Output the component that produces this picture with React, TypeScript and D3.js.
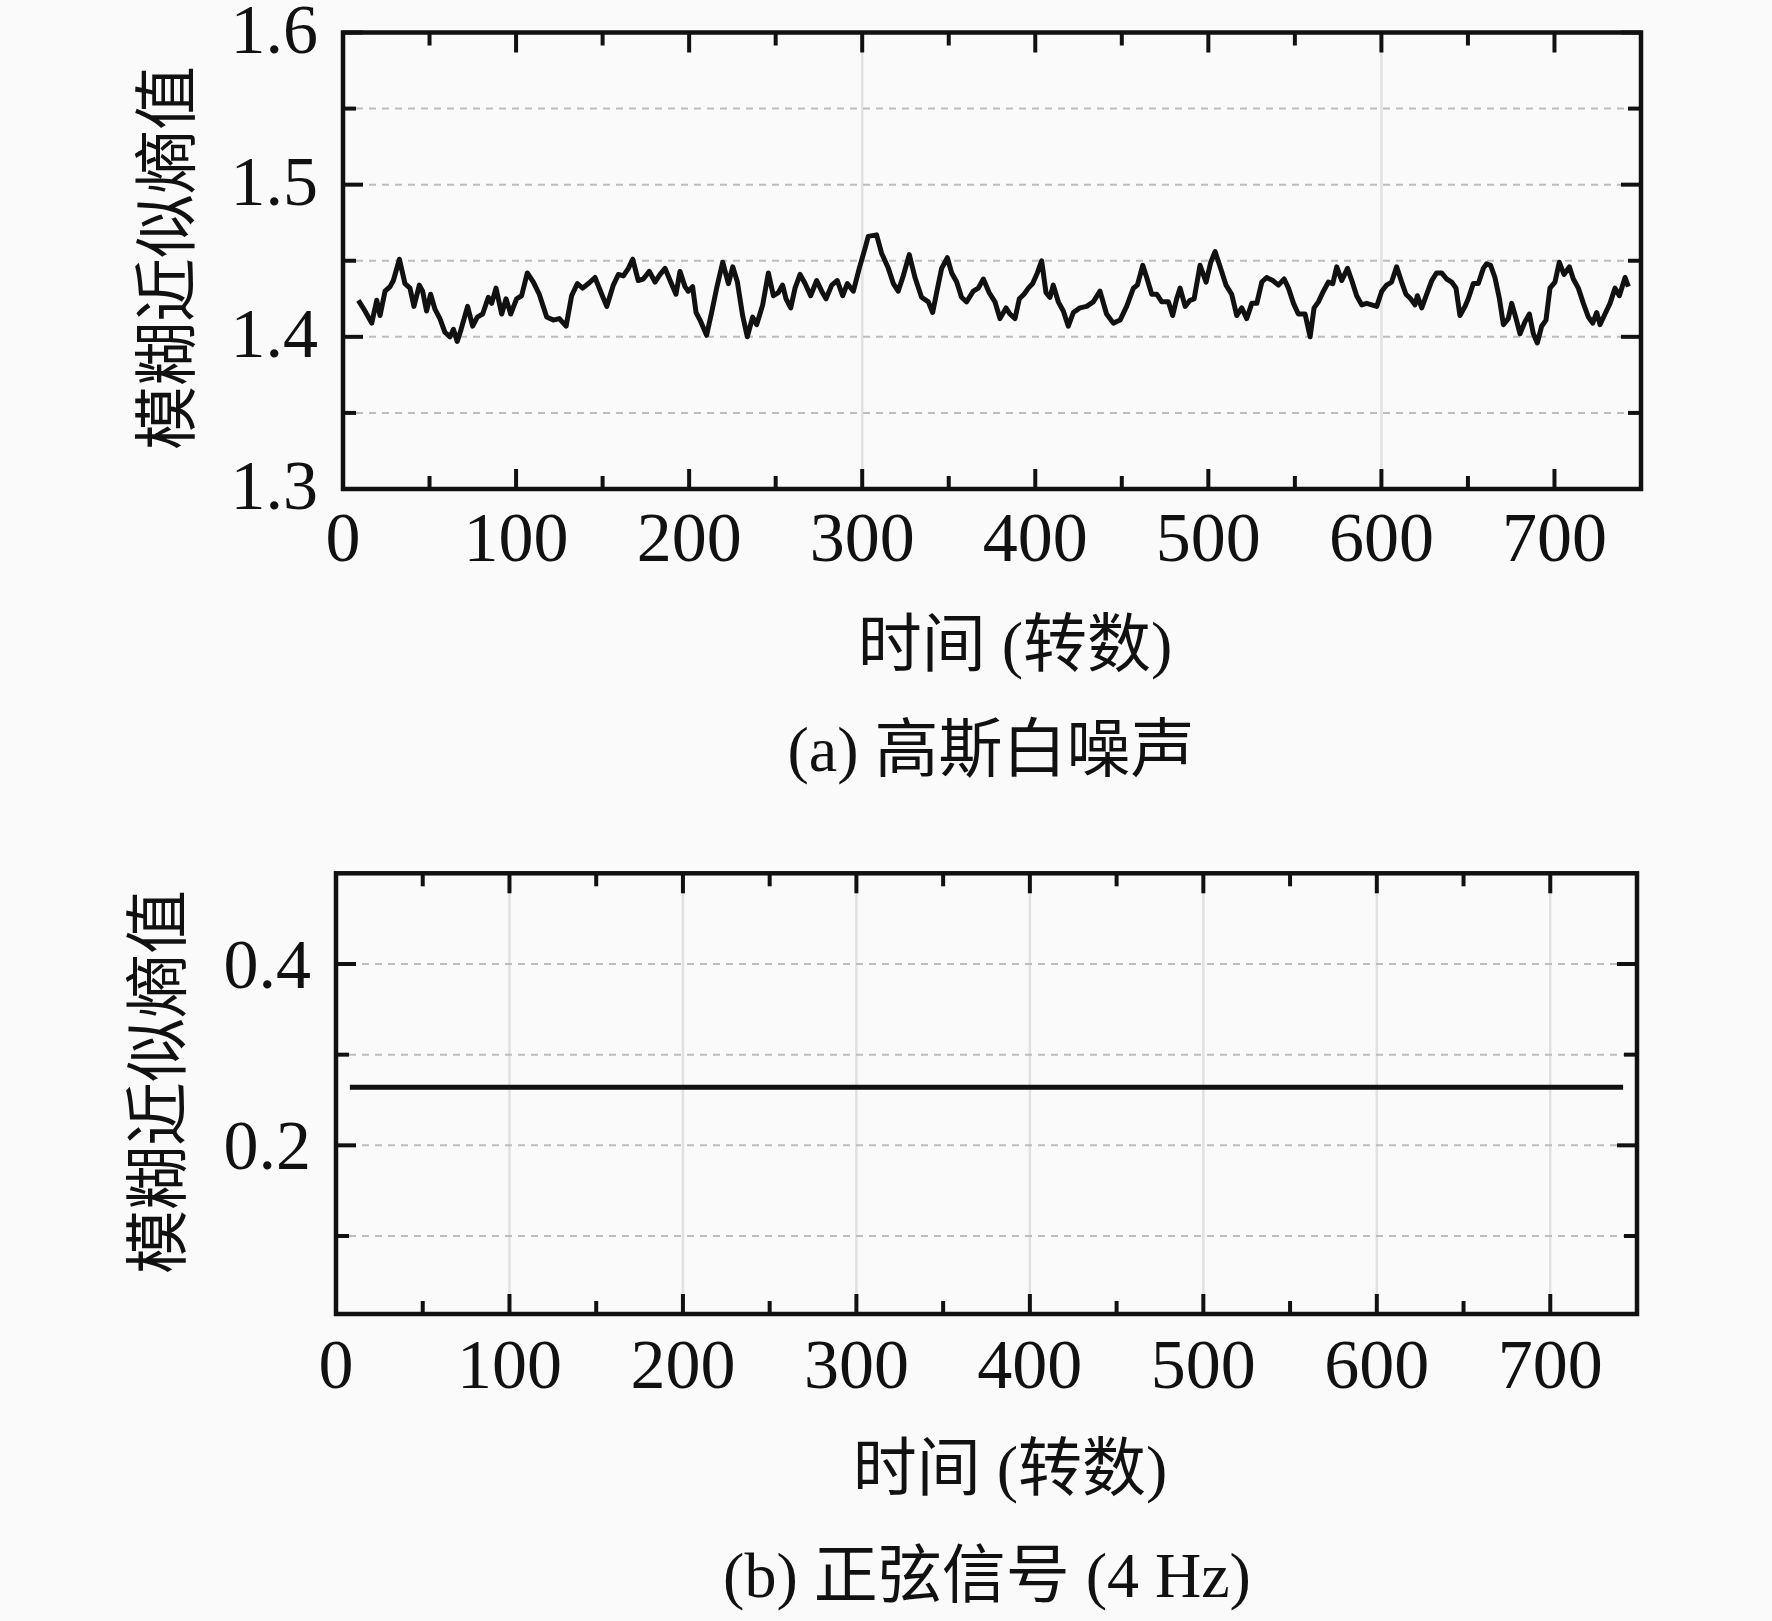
import { scaleLinear, line } from "d3"

// top panel: fuzzy ApEn of gaussian white noise
const noiseTurns = [
  8.9, 12.7, 16.6, 19.5, 21.4, 24.3, 27.2, 29.1, 32.6, 35.8, 38.7, 41.0, 44.1, 46.0, 48.3, 50.6, 53.2, 56.0, 58.9, 61.8,
  63.8, 66.0, 68.0, 72.0, 74.9, 77.6, 80.7, 84.0, 85.9, 88.4, 91.7, 94.2, 96.9, 100.3, 103.2, 106.5, 110.0, 113.4, 117.7, 121.5,
  125.0, 128.9, 132.1, 135.4, 138.5, 141.8, 145.6, 149.5, 152.4, 156.2, 159.1, 162.0, 164.9, 167.4, 170.6, 173.5, 177.0, 180.3, 183.2, 186.1,
  189.0, 192.4, 194.7, 197.6, 199.5, 202.0, 204.0, 206.3, 210.1, 213.0, 215.9, 219.4, 222.7, 225.2, 227.9, 230.9, 233.6, 236.7, 239.0, 242.5,
  245.8, 248.7, 251.5, 254.0, 256.0, 258.7, 261.2, 264.1, 267.0, 270.2, 273.7, 276.6, 279.1, 282.4, 285.6, 288.7, 291.4, 294.9, 298.3, 301.6,
  303.5, 308.3, 311.2, 315.1, 318.0, 320.8, 323.7, 327.2, 330.5, 334.3, 338.2, 340.7, 343.0, 345.9, 349.2, 351.7, 354.6, 357.4, 360.3, 364.2,
  367.1, 370.0, 373.4, 376.7, 379.6, 383.1, 385.4, 388.3, 390.8, 393.5, 396.0, 398.5, 401.2, 403.7, 406.2, 408.5, 410.4, 413.3, 416.2, 419.1,
  422.0, 425.8, 429.7, 433.5, 437.4, 441.2, 445.1, 449.0, 452.8, 456.7, 459.0, 462.1, 464.4, 467.3, 470.2, 473.1, 476.9, 479.4, 481.7, 483.7,
  486.6, 489.4, 491.8, 495.2, 498.7, 501.4, 503.9, 506.8, 510.2, 513.5, 516.4, 519.3, 522.2, 525.1, 528.0, 530.9, 533.7, 537.2, 540.5, 543.8,
  546.3, 549.2, 552.0, 555.9, 558.8, 561.1, 563.6, 566.5, 569.4, 571.9, 574.2, 577.1, 580.4, 582.9, 585.7, 588.6, 591.5, 594.4, 597.3, 600.2,
  603.0, 605.9, 608.8, 611.7, 614.2, 616.9, 619.4, 620.8, 623.3, 626.2, 629.1, 631.9, 634.8, 637.7, 640.6, 643.1, 645.4, 648.3, 650.2, 653.1,
  656.0, 658.9, 660.8, 663.1, 665.6, 668.2, 670.5, 673.3, 675.3, 677.8, 680.1, 683.0, 685.5, 687.8, 690.1, 692.6, 695.1, 697.4, 700.3, 702.8,
  705.5, 708.6, 710.9, 713.8, 716.7, 719.6, 722.1, 724.4, 726.3, 729.2, 732.1, 735.0, 737.5, 740.8, 742.7,
]
const noiseValues = [
  1.424, 1.417, 1.409, 1.424, 1.414, 1.430, 1.433, 1.437, 1.451, 1.435, 1.432, 1.420, 1.434, 1.430, 1.417, 1.428, 1.418, 1.412, 1.403, 1.400,
  1.405, 1.397, 1.404, 1.420, 1.407, 1.413, 1.415, 1.426, 1.422, 1.432, 1.415, 1.425, 1.415, 1.425, 1.427, 1.442, 1.436, 1.428, 1.413, 1.411,
  1.412, 1.407, 1.427, 1.435, 1.432, 1.435, 1.439, 1.428, 1.420, 1.434, 1.441, 1.440, 1.445, 1.451, 1.437, 1.438, 1.443, 1.436, 1.441, 1.445,
  1.437, 1.428, 1.443, 1.433, 1.430, 1.433, 1.416, 1.411, 1.401, 1.416, 1.432, 1.449, 1.435, 1.446, 1.436, 1.414, 1.400, 1.413, 1.408, 1.421,
  1.442, 1.427, 1.429, 1.434, 1.425, 1.419, 1.432, 1.441, 1.435, 1.427, 1.437, 1.430, 1.425, 1.434, 1.437, 1.427, 1.435, 1.430, 1.445, 1.458,
  1.466, 1.467, 1.455, 1.445, 1.435, 1.430, 1.440, 1.454, 1.439, 1.426, 1.423, 1.416, 1.429, 1.445, 1.452, 1.442, 1.436, 1.426, 1.423, 1.430,
  1.432, 1.438, 1.429, 1.423, 1.412, 1.419, 1.415, 1.412, 1.425, 1.428, 1.432, 1.435, 1.442, 1.450, 1.429, 1.426, 1.434, 1.423, 1.417, 1.407,
  1.416, 1.419, 1.420, 1.423, 1.430, 1.415, 1.409, 1.411, 1.420, 1.432, 1.434, 1.447, 1.439, 1.428, 1.428, 1.423, 1.423, 1.414, 1.425, 1.432,
  1.420, 1.424, 1.425, 1.447, 1.436, 1.449, 1.456, 1.446, 1.434, 1.428, 1.414, 1.419, 1.412, 1.422, 1.422, 1.436, 1.439, 1.437, 1.434, 1.438,
  1.432, 1.422, 1.415, 1.415, 1.400, 1.419, 1.423, 1.430, 1.436, 1.435, 1.446, 1.437, 1.445, 1.437, 1.427, 1.421, 1.422, 1.421, 1.420, 1.430,
  1.434, 1.436, 1.446, 1.436, 1.428, 1.425, 1.421, 1.427, 1.419, 1.428, 1.437, 1.442, 1.442, 1.438, 1.436, 1.432, 1.414, 1.420, 1.425, 1.435,
  1.435, 1.445, 1.448, 1.447, 1.439, 1.425, 1.408, 1.412, 1.422, 1.412, 1.402, 1.410, 1.415, 1.402, 1.396, 1.407, 1.411, 1.432, 1.436, 1.449,
  1.441, 1.446, 1.438, 1.432, 1.422, 1.413, 1.409, 1.416, 1.408, 1.415, 1.422, 1.432, 1.427, 1.439, 1.433,
]

// bottom panel: 4 Hz sine, a flat value
const sineTurns = [8, 742]
const sineValues = [0.264, 0.264]

const xMajor = [0, 100, 200, 300, 400, 500, 600, 700]
const xMinor = [50, 150, 250, 350, 450, 550, 650]
const xLabels = ["0", "100", "200", "300", "400", "500", "600", "700"]

const topYMajor = [1.3, 1.4, 1.5, 1.6]
const topYMinor = [1.35, 1.45, 1.55]
const topYLabels = ["1.3", "1.4", "1.5", "1.6"]
const topGrid = [1.35, 1.4, 1.45, 1.5, 1.55]
const topVGrid = [300, 600]

const botYMajor = [0.2, 0.4]
const botYMinor = [0.1, 0.3]
const botYLabels = ["0.2", "0.4"]
const botGrid = [0.1, 0.2, 0.3, 0.4]
const botVGrid = [100, 200, 300, 400, 500, 600, 700]

const yTitle = "模糊近似熵值"
const xTitle = "时间 (转数)"

const FONT = "'Liberation Serif', 'Times New Roman', 'Noto Sans CJK SC', serif"
const INK = "#111"

const Panel = ({ left, right, top, bottom, xDomain, yDomain, turns, values, yMajor, yMinor, yLabels, grid, vGrid, yLabelDy, xLabelY, yTitleX, yTitleY, xTitleX, xTitleY, caption, captionX, captionY }) => {
  const x = scaleLinear().domain(xDomain).range([left, right])
  const y = scaleLinear().domain(yDomain).range([bottom, top])
  const path = line().x((d, i) => x(turns[i])).y(d => y(d))(values)

  const major = 20, minor = 13

  return (
    <g>
      {vGrid.map(v => (
        <line key={'vg' + v} x1={x(v)} x2={x(v)} y1={top} y2={bottom} stroke="#e1e1e1" strokeWidth={2.5} />
      ))}
      {grid.map(v => (
        <line key={'hg' + v} x1={left} x2={right} y1={y(v)} y2={y(v)} stroke="#bdbdbd" strokeWidth={2} strokeDasharray="7 6" />
      ))}

      {/* x ticks, inward at top and bottom */}
      {xMajor.map(v => (
        <g key={'xM' + v} stroke={INK} strokeWidth={4}>
          <line x1={x(v)} x2={x(v)} y1={bottom} y2={bottom - major} />
          <line x1={x(v)} x2={x(v)} y1={top} y2={top + major} />
        </g>
      ))}
      {xMinor.map(v => (
        <g key={'xm' + v} stroke={INK} strokeWidth={4}>
          <line x1={x(v)} x2={x(v)} y1={bottom} y2={bottom - minor} />
          <line x1={x(v)} x2={x(v)} y1={top} y2={top + minor} />
        </g>
      ))}
      {yMajor.map(v => (
        <g key={'yM' + v} stroke={INK} strokeWidth={4}>
          <line x1={left} x2={left + major} y1={y(v)} y2={y(v)} />
          <line x1={right} x2={right - major} y1={y(v)} y2={y(v)} />
        </g>
      ))}
      {yMinor.map(v => (
        <g key={'ym' + v} stroke={INK} strokeWidth={4}>
          <line x1={left} x2={left + minor} y1={y(v)} y2={y(v)} />
          <line x1={right} x2={right - minor} y1={y(v)} y2={y(v)} />
        </g>
      ))}

      <path d={path} fill="none" stroke={INK} strokeWidth={5} strokeLinejoin="round" />

      <rect x={left} y={top} width={right - left} height={bottom - top} fill="none" stroke={INK} strokeWidth={4.5} />

      {yMajor.map((v, i) => (
        <text key={'yl' + v} x={left - 25} y={y(v) + yLabelDy} textAnchor="end" fontSize={70} fill={INK}>{yLabels[i]}</text>
      ))}
      {xMajor.map((v, i) => (
        <text key={'xl' + v} x={x(v)} y={xLabelY} textAnchor="middle" fontSize={70} fill={INK}>{xLabels[i]}</text>
      ))}

      <text transform={`translate(${yTitleX},${yTitleY}) rotate(-90)`} textAnchor="middle" dominantBaseline="central" fontSize={64} fill={INK}>{yTitle}</text>
      <text x={xTitleX} y={xTitleY} textAnchor="middle" fontSize={64} fill={INK}>{xTitle}</text>
      <text x={captionX} y={captionY} textAnchor="middle" fontSize={64} fill={INK}>{caption}</text>
    </g>
  )
}

export default function App() {
  return (
    <svg width={1772} height={1621} viewBox="0 0 1772 1621" style={{ position: 'absolute', left: 0, top: 0, fontFamily: FONT }}>
      <rect width={1772} height={1621} fill="#fafafa" />
      <Panel
        left={343} right={1641} top={32.5} bottom={489}
        xDomain={[0, 750]} yDomain={[1.3, 1.6]}
        turns={noiseTurns} values={noiseValues}
        yMajor={topYMajor} yMinor={topYMinor} yLabels={topYLabels}
        grid={topGrid} vGrid={topVGrid}
        yLabelDy={20} xLabelY={561}
        yTitleX={167} yTitleY={258}
        xTitleX={1015} xTitleY={666}
        caption="(a) 高斯白噪声" captionX={991} captionY={771}
      />
      <Panel
        left={336} right={1637} top={873.3} bottom={1314}
        xDomain={[0, 750]} yDomain={[0.014, 0.5]}
        turns={sineTurns} values={sineValues}
        yMajor={botYMajor} yMinor={botYMinor} yLabels={botYLabels}
        grid={botGrid} vGrid={botVGrid}
        yLabelDy={24} xLabelY={1388}
        yTitleX={158} yTitleY={1082}
        xTitleX={1010} xTitleY={1490}
        caption="(b) 正弦信号 (4 Hz)" captionX={987} captionY={1597}
      />
    </svg>
  )
}
